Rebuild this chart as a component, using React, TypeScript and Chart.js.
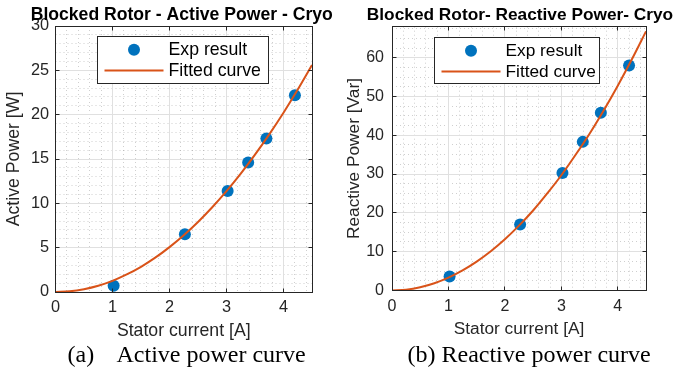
import React, { useEffect, useRef } from "react";
import { Chart, registerables } from "chart.js";

Chart.register(...registerables);

// ---------- data ----------
const expCurrent = [1.02, 2.27, 3.02, 3.38, 3.7, 4.2];
const activeExp = [0.7, 6.5, 11.4, 14.6, 17.3, 22.2];
const reactiveExp = [3.6, 17.0, 30.3, 38.3, 45.8, 58.0];

const fitCurrent = [0, 0.25, 0.5, 0.75, 1, 1.25, 1.5, 1.75, 2, 2.25, 2.5, 2.75, 3, 3.25, 3.5, 3.75, 4, 4.25, 4.5];
const activeFit = [0, 0.08, 0.32, 0.71, 1.26, 1.98, 2.84, 3.87, 5.06, 6.4, 7.9, 9.56, 11.38, 13.35, 15.49, 17.78, 20.22, 22.83, 25.6];
const reactiveFit = [0, 0.2, 0.83, 1.86, 3.3, 5.16, 7.43, 10.1, 13.2, 16.7, 20.6, 25.0, 29.7, 34.9, 40.4, 46.4, 52.8, 59.6, 66.8];

const xTicks = [0, 1, 2, 3, 4];
const activeTicks = [0, 5, 10, 15, 20, 25, 30];
const reactiveTicks = [0, 10, 20, 30, 40, 50, 60];

const FONT = "'Liberation Sans', Arial, Helvetica, sans-serif";
const SERIF = "'Liberation Serif', 'Times New Roman', Times, serif";
const BLUE = "#0072BD";
const ORANGE = "#D95319";
const AXIS = "#262626";
const H = 345;

type PanelCfg = {
  x: number;
  W: number;
  title: string;
  yTitle: string;
  exp: number[];
  fit: number[];
  yMax: number;
  yTicks: number[];
  yMinor: number;
  xMinor: number;
  left: number;
  right: number;
  top: number;
  bottom: number;
  font: number;
  tickFont: number;
  titleFont: number;
  titleDx: number;
  titleBase: number;
  yTickPad: number;
  xTickPad: number;
  xTitlePad: number;
  yTitlePad: number;
  legendDx: number;
  legendDy: number;
  legendW: number;
  legendH: number;
};

const panels: PanelCfg[] = [
  {
    x: 0, W: 337,
    title: "Blocked Rotor - Active Power - Cryo",
    yTitle: "Active Power [W]",
    exp: activeExp, fit: activeFit, yMax: 30, yTicks: activeTicks, yMinor: 1, xMinor: 0.2,
    left: 55.5, right: 312, top: 26, bottom: 292,
    font: 17.7, tickFont: 16.3, titleFont: 17.6, titleDx: -2, titleBase: 20,
    yTickPad: 6.5, xTickPad: 6.2, xTitlePad: 5.4, yTitlePad: 5.1,
    legendDx: 41.5, legendDy: 10, legendW: 171, legendH: 47,
  },
  {
    x: 337, W: 338,
    title: "Blocked Rotor- Reactive Power- Cryo",
    yTitle: "Reactive Power [Var]",
    exp: reactiveExp, fit: reactiveFit, yMax: 68, yTicks: reactiveTicks, yMinor: 2.5, xMinor: 0.2,
    left: 55, right: 309, top: 26.7, bottom: 290.4,
    font: 17.3, tickFont: 16, titleFont: 17.3, titleDx: 1, titleBase: 20,
    yTickPad: 8, xTickPad: 7, xTitlePad: 7.2, yTitlePad: 8.2,
    legendDx: 42, legendDy: 10.3, legendW: 165, legendH: 46,
  },
];

function minorValues(min: number, max: number, step: number, majors: number[]) {
  const out: number[] = [];
  const n = Math.round((max - min) / step);
  for (let i = 1; i <= n; i++) {
    const v = min + i * step;
    if (v >= max - 1e-9) break;
    if (majors.some((m) => Math.abs(m - v) < 1e-6)) continue;
    out.push(v);
  }
  return out;
}

const crisp = (v: number) => Math.round(v - 0.5) + 0.5;

const matlabAxes = {
  id: "matlabAxes",
  beforeDatasetsDraw(chart: any, _args: any, opts: any) {
    const { ctx, chartArea: a } = chart;
    const xs = chart.scales.x;
    const ys = chart.scales.y;
    ctx.save();
    // minor grid
    ctx.lineWidth = 1;
    ctx.strokeStyle = "rgba(38,38,38,0.22)";
    ctx.setLineDash([1, 3]);
    for (const v of minorValues(xs.min, xs.max, opts.xMinor, opts.xMajor)) {
      const px = crisp(xs.getPixelForValue(v));
      ctx.beginPath();
      ctx.moveTo(px, a.top);
      ctx.lineTo(px, a.bottom);
      ctx.stroke();
    }
    for (const v of minorValues(ys.min, ys.max, opts.yMinor, opts.yMajor)) {
      const py = crisp(ys.getPixelForValue(v));
      ctx.beginPath();
      ctx.moveTo(a.left, py);
      ctx.lineTo(a.right, py);
      ctx.stroke();
    }
    // major grid
    ctx.setLineDash([]);
    ctx.strokeStyle = "#e0e0e0";
    for (const v of opts.xMajor) {
      const px = crisp(xs.getPixelForValue(v));
      ctx.beginPath();
      ctx.moveTo(px, a.top);
      ctx.lineTo(px, a.bottom);
      ctx.stroke();
    }
    for (const v of opts.yMajor) {
      const py = crisp(ys.getPixelForValue(v));
      ctx.beginPath();
      ctx.moveTo(a.left, py);
      ctx.lineTo(a.right, py);
      ctx.stroke();
    }
    ctx.restore();
  },
  afterDatasetsDraw(chart: any, _args: any, opts: any) {
    const { ctx, chartArea: a } = chart;
    const xs = chart.scales.x;
    const ys = chart.scales.y;
    ctx.save();
    // box
    ctx.strokeStyle = AXIS;
    ctx.lineWidth = 1;
    const L = crisp(a.left), R = crisp(a.right), T = crisp(a.top), B = crisp(a.bottom);
    ctx.strokeRect(L, T, R - L, B - T);
    // inward ticks
    const tl = 4;
    ctx.beginPath();
    for (const v of opts.xMajor) {
      const px = crisp(xs.getPixelForValue(v));
      ctx.moveTo(px, B);
      ctx.lineTo(px, B - tl);
      ctx.moveTo(px, T);
      ctx.lineTo(px, T + tl);
    }
    for (const v of opts.yMajor) {
      const py = crisp(ys.getPixelForValue(v));
      ctx.moveTo(L, py);
      ctx.lineTo(L + tl, py);
      ctx.moveTo(R, py);
      ctx.lineTo(R - tl, py);
    }
    ctx.stroke();

    // title
    ctx.fillStyle = "#000000";
    ctx.font = `bold ${opts.titleFont}px ${FONT}`;
    ctx.textAlign = "center";
    ctx.textBaseline = "alphabetic";
    ctx.fillText(opts.title, (a.left + a.right) / 2 + opts.titleDx, opts.titleBase);

    // legend
    const bx = crisp(a.left + opts.legendDx);
    const by = crisp(a.top + opts.legendDy);
    const bw = opts.legendW;
    const bh = opts.legendH;
    ctx.fillStyle = "#ffffff";
    ctx.fillRect(bx, by, bw, bh);
    ctx.strokeStyle = AXIS;
    ctx.lineWidth = 1;
    ctx.strokeRect(bx, by, bw, bh);
    ctx.font = `${opts.font}px ${FONT}`;
    ctx.textAlign = "left";
    ctx.textBaseline = "middle";
    const rowY = [by + 13.3, by + 34];
    chart.data.datasets.forEach((ds: any, i: number) => {
      const cy = rowY[i];
      if (ds.showLine) {
        ctx.strokeStyle = ds.borderColor;
        ctx.lineWidth = ds.borderWidth;
        ctx.beginPath();
        ctx.moveTo(bx + 7, cy);
        ctx.lineTo(bx + 66, cy);
        ctx.stroke();
      } else {
        ctx.fillStyle = ds.backgroundColor;
        ctx.beginPath();
        ctx.arc(bx + 36.5, cy, ds.pointRadius, 0, Math.PI * 2);
        ctx.fill();
      }
      ctx.fillStyle = "#000000";
      ctx.fillText(ds.label, bx + 71, cy + 0.5);
    });
    ctx.restore();
  },
};

function Panel({ p }: { p: PanelCfg }) {
  const ref = useRef<HTMLCanvasElement | null>(null);
  useEffect(() => {
    const canvas = ref.current;
    if (!canvas) return;
    const chart = new Chart(canvas, {
      type: "scatter",
      data: {
        datasets: [
          {
            label: "Exp result",
            data: expCurrent.map((x, i) => ({ x, y: p.exp[i] })),
            backgroundColor: BLUE,
            borderColor: BLUE,
            borderWidth: 0,
            pointRadius: 6,
            pointHoverRadius: 6,
            showLine: false,
            order: 2,
          } as any,
          {
            label: "Fitted curve",
            data: fitCurrent.map((x, i) => ({ x, y: p.fit[i] })),
            borderColor: ORANGE,
            backgroundColor: ORANGE,
            borderWidth: 2,
            pointRadius: 0,
            pointHoverRadius: 0,
            showLine: true,
            cubicInterpolationMode: "monotone",
            order: 1,
          } as any,
        ],
      },
      options: {
        animation: false,
        responsive: false,
        devicePixelRatio: 1,
        events: [],
        layout: { padding: { left: 0, right: p.W - p.right, top: p.top, bottom: 0 } },
        plugins: {
          legend: { display: false },
          tooltip: { enabled: false },
          title: { display: false },
          matlabAxes: {
            xMajor: xTicks,
            yMajor: p.yTicks,
            xMinor: p.xMinor,
            yMinor: p.yMinor,
            font: p.font,
            title: p.title,
            titleFont: p.titleFont,
            titleDx: p.titleDx,
            titleBase: p.titleBase,
            legendDx: p.legendDx,
            legendDy: p.legendDy,
            legendW: p.legendW,
            legendH: p.legendH,
          },
        } as any,
        scales: {
          x: {
            type: "linear",
            min: 0,
            max: 4.5,
            afterBuildTicks: (s: any) => {
              s.ticks = xTicks.map((v) => ({ value: v }));
            },
            afterFit: (s: any) => {
              s.height = H - p.bottom;
            },
            grid: { display: false, drawTicks: false },
            border: { display: false },
            ticks: {
              autoSkip: false,
              maxRotation: 0,
              padding: p.xTickPad,
              color: AXIS,
              font: { family: FONT, size: p.tickFont },
              callback: (v: any) => String(v),
            },
            title: {
              display: true,
              text: "Stator current [A]",
              color: AXIS,
              font: { family: FONT, size: p.font, lineHeight: 1 },
              padding: { top: 0, bottom: p.xTitlePad },
            },
          },
          y: {
            type: "linear",
            min: 0,
            max: p.yMax,
            afterBuildTicks: (s: any) => {
              s.ticks = p.yTicks.map((v) => ({ value: v }));
            },
            afterFit: (s: any) => {
              s.width = p.left;
            },
            grid: { display: false, drawTicks: false },
            border: { display: false },
            ticks: {
              autoSkip: false,
              padding: p.yTickPad,
              color: AXIS,
              font: { family: FONT, size: p.tickFont },
              callback: (v: any) => String(v),
            },
            title: {
              display: true,
              text: p.yTitle,
              color: AXIS,
              font: { family: FONT, size: p.font, lineHeight: 1 },
              padding: { top: p.yTitlePad, bottom: 0 },
            },
          },
        },
      },
      plugins: [matlabAxes as any],
    });
    return () => chart.destroy();
  }, [p]);
  return (
    <canvas
      ref={ref}
      width={p.W}
      height={H}
      style={{ position: "absolute", left: p.x, top: 0, width: p.W, height: H }}
    />
  );
}

const captionStyle: React.CSSProperties = {
  position: "absolute",
  top: 342.4,
  fontFamily: SERIF,
  fontSize: 24,
  lineHeight: "24px",
  color: "#000",
  whiteSpace: "pre",
};

export default function App() {
  return (
    <div
      style={{
        position: "fixed",
        left: 0,
        top: 0,
        width: 675,
        height: 370,
        background: "#ffffff",
        overflow: "hidden",
      }}
    >
      {panels.map((p, i) => (
        <Panel key={i} p={p} />
      ))}
      <span style={{ ...captionStyle, left: 67.5 }}>(a)</span>
      <span style={{ ...captionStyle, left: 116.5 }}>Active power curve</span>
      <span style={{ ...captionStyle, left: 407.5 }}>(b) Reactive power curve</span>
    </div>
  );
}
